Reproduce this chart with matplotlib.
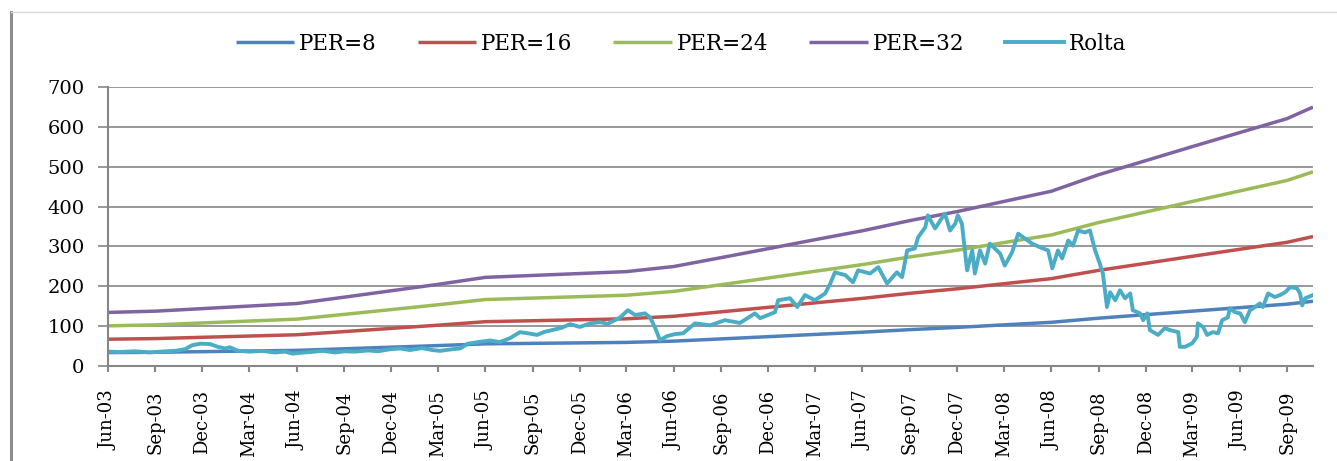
import pandas as pd
import matplotlib
matplotlib.use("Agg")
import matplotlib.pyplot as plt
import matplotlib.dates as mdates
from matplotlib.lines import Line2D

# ── Data ──────────────────────────────────────────────────
# trailing EPS, quarterly; PE bands are EPS x multiple
eps_dates = [
    "2003-06-01", "2003-09-01", "2003-12-01", "2004-03-01", "2004-06-01",
    "2004-09-01", "2004-12-01", "2005-03-01", "2005-06-01", "2005-09-01",
    "2005-12-01", "2006-03-01", "2006-06-01", "2006-09-01", "2006-12-01",
    "2007-03-01", "2007-06-01", "2007-09-01", "2007-12-01", "2008-03-01",
    "2008-06-01", "2008-09-01", "2008-12-01", "2009-03-01", "2009-06-01",
    "2009-09-01", "2009-10-21",
]
eps = [4.2, 4.3, 4.5, 4.7, 4.9, 5.4, 5.9, 6.4, 6.95, 7.1, 7.25, 7.4, 7.8,
       8.5, 9.2, 9.9, 10.6, 11.4, 12.1, 12.9, 13.7, 15.0, 16.1, 17.2, 18.3,
       19.4, 20.3]
pe_multiples = [8, 16, 24, 32]

rolta_dates = [
    "2003-06-01", "2003-06-24", "2003-07-23", "2003-08-21", "2003-09-10",
    "2003-10-09", "2003-10-28", "2003-11-11", "2003-11-26", "2003-12-16",
    "2003-12-31", "2004-01-14", "2004-01-23", "2004-02-08", "2004-03-02",
    "2004-03-25", "2004-04-19", "2004-05-09", "2004-05-24", "2004-06-07",
    "2004-06-26", "2004-07-20", "2004-08-14", "2004-09-02", "2004-09-21",
    "2004-10-17", "2004-11-05", "2004-11-28", "2004-12-18", "2005-01-06",
    "2005-01-29", "2005-02-18", "2005-03-05", "2005-03-28", "2005-04-13",
    "2005-04-28", "2005-05-18", "2005-06-10", "2005-06-29", "2005-07-19",
    "2005-08-07", "2005-08-23", "2005-09-09", "2005-09-24", "2005-10-08",
    "2005-10-27", "2005-11-12", "2005-12-01", "2005-12-21", "2006-01-09",
    "2006-01-24", "2006-02-07", "2006-02-17", "2006-03-04", "2006-03-18",
    "2006-04-06", "2006-04-16", "2006-04-26", "2006-05-05", "2006-05-19",
    "2006-06-03", "2006-06-19", "2006-07-12", "2006-08-10", "2006-09-08",
    "2006-10-07", "2006-11-05", "2006-11-15", "2006-12-14", "2006-12-20",
    "2007-01-12", "2007-01-26", "2007-02-10", "2007-03-01", "2007-03-21",
    "2007-03-31", "2007-04-09", "2007-04-29", "2007-05-14", "2007-05-24",
    "2007-06-16", "2007-07-02", "2007-07-19", "2007-08-07", "2007-08-17",
    "2007-08-27", "2007-09-11", "2007-09-17", "2007-10-01", "2007-10-06",
    "2007-10-20", "2007-10-30", "2007-11-08", "2007-11-18", "2007-11-28",
    "2007-12-03", "2007-12-11", "2007-12-21", "2007-12-31", "2008-01-05",
    "2008-01-15", "2008-01-25", "2008-02-03", "2008-02-23", "2008-03-03",
    "2008-03-17", "2008-03-29", "2008-04-11", "2008-04-25", "2008-05-10",
    "2008-05-26", "2008-06-03", "2008-06-14", "2008-06-22", "2008-07-04",
    "2008-07-13", "2008-07-23", "2008-08-05", "2008-08-15", "2008-08-25",
    "2008-09-03", "2008-09-09", "2008-09-13", "2008-09-17", "2008-09-23",
    "2008-10-03", "2008-10-12", "2008-10-22", "2008-11-01", "2008-11-06",
    "2008-11-20", "2008-11-26", "2008-12-04", "2008-12-09", "2008-12-25",
    "2009-01-07", "2009-01-17", "2009-02-02", "2009-02-05", "2009-02-15",
    "2009-03-01", "2009-03-10", "2009-03-12", "2009-03-22", "2009-03-30",
    "2009-04-10", "2009-04-20", "2009-04-28", "2009-05-09", "2009-05-13",
    "2009-05-23", "2009-06-02", "2009-06-11", "2009-06-21", "2009-07-01",
    "2009-07-10", "2009-07-16", "2009-07-26", "2009-08-08", "2009-08-18",
    "2009-08-28", "2009-09-07", "2009-09-20", "2009-09-26", "2009-09-30",
    "2009-10-06", "2009-10-21",
]
rolta_price = [
    36, 35, 37, 34, 36, 38, 42, 52, 56, 55,
    48, 44, 47, 38, 36, 38, 34, 36, 31, 33,
    35, 38, 34, 37, 36, 39, 37, 42, 44, 40,
    45, 40, 38, 42, 44, 56, 60, 64, 60, 70,
    85, 82, 78, 86, 90, 96, 105, 98, 107, 110,
    106, 115, 122, 140, 128, 132, 122, 95, 65, 75,
    80, 82, 107, 102, 115, 108, 132, 120, 135, 165,
    170, 148, 178, 165, 182, 207, 235, 228, 210, 240,
    232, 248, 207, 235, 223, 290, 295, 323, 348, 378,
    345, 365, 382, 340, 357, 378, 357, 240, 290, 232,
    290, 257, 307, 282, 252, 285, 332, 320, 307, 298,
    290, 245, 290, 270, 315, 302, 340, 335, 340, 290,
    257, 232, 190, 148, 185, 165, 190, 170, 182, 140,
    132, 115, 132, 90, 78, 95, 90, 85, 48, 48,
    57, 73, 107, 98, 78, 85, 82, 115, 122, 145,
    135, 132, 110, 140, 148, 157, 148, 182, 173, 178,
    185, 198, 195, 182, 152, 170, 178,
]

band_colors = ["#4F81BD", "#C0504D", "#9BBB59", "#8064A2"]
rolta_color = "#4BACC6"
grid_gray = "#868686"

plt.rcParams["font.family"] = ["DejaVu Serif"]

eps_dt = pd.to_datetime(eps_dates)
rolta_dt = pd.to_datetime(rolta_dates)

fig = plt.figure(figsize=(13.37, 4.61), dpi=100)
ax = fig.add_axes([108 / 1337, 1 - 366 / 461, (1313 - 108) / 1337, (366 - 87) / 461])

# ── Lines ─────────────────────────────────────────────────
for mult, col in zip(pe_multiples, band_colors):
    ax.plot(eps_dt, [e * mult for e in eps], color=col, lw=2.5,
            label=f"PER={mult}", solid_capstyle="butt")
ax.plot(rolta_dt, rolta_price, color=rolta_color, lw=2.8, label="Rolta")

# ── Axes styling ──────────────────────────────────────────
ax.set_xlim(pd.Timestamp("2003-06-01"), pd.Timestamp("2009-10-21"))
ax.set_ylim(0, 700)
ax.set_yticks(range(0, 701, 100))
ax.yaxis.grid(True, color=grid_gray, lw=1.2)
ax.set_axisbelow(True)

ticks = pd.date_range("2003-06-01", "2009-09-01", freq="3MS")
ax.set_xticks(ticks)
ax.xaxis.set_major_formatter(mdates.DateFormatter("%b-%y"))
plt.setp(ax.get_xticklabels(), rotation=90, fontsize=13)
plt.setp(ax.get_yticklabels(), fontsize=14)

for side in ["top", "right"]:
    ax.spines[side].set_visible(False)
for side in ["left", "bottom"]:
    ax.spines[side].set_color(grid_gray)
    ax.spines[side].set_linewidth(1.5)
ax.tick_params(axis="y", length=7, width=1.2, color=grid_gray, pad=10)
ax.tick_params(axis="x", length=4.5, width=1.5, color=grid_gray, pad=13)

leg = fig.legend(loc="center", bbox_to_anchor=(681 / 1337, 1 - 44 / 461),
                 ncol=5, frameon=False, fontsize=15.5, handlelength=2.7,
                 handletextpad=0.25, columnspacing=1.9)

# outer chart frame
fig.add_artist(Line2D([11 / 1337, 11 / 1337], [0, 1 - 12 / 461],
                      transform=fig.transFigure, color="#8c8c8c", lw=2.2))
fig.add_artist(Line2D([11 / 1337, 1], [1 - 12 / 461, 1 - 12 / 461],
                      transform=fig.transFigure, color="#d9d9d9", lw=1.0))

fig.savefig("out.png", dpi=100)
